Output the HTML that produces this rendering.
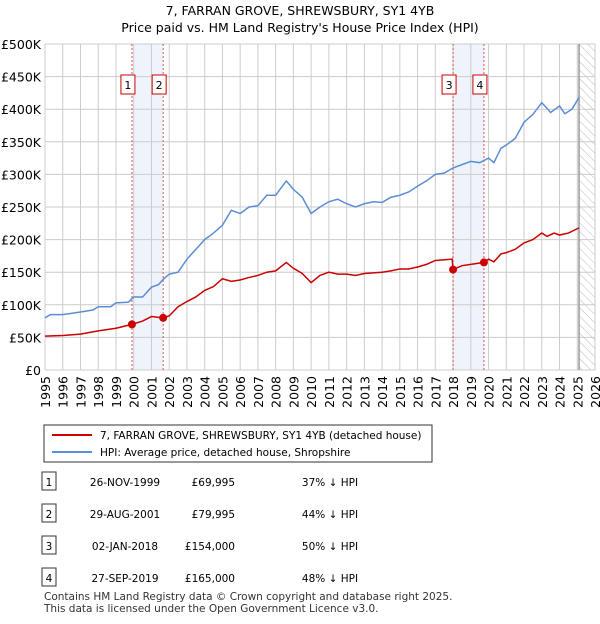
<!DOCTYPE html>
<html><head><meta charset="utf-8"><style>
body{margin:0;background:#fff;font-family:"DejaVu Sans","Liberation Sans",sans-serif;}
svg text{font-family:"DejaVu Sans","Liberation Sans",sans-serif;}
</style></head><body>
<svg id="c" width="600" height="620" xmlns="http://www.w3.org/2000/svg">
<defs><pattern id="hatch" width="6" height="6" patternUnits="userSpaceOnUse" patternTransform="rotate(-45)"><line x1="0" y1="0" x2="0" y2="6" stroke="#bbb" stroke-width="1"/></pattern></defs>
<text x="300" y="15" text-anchor="middle" font-size="12.5">7, FARRAN GROVE, SHREWSBURY, SY1 4YB</text>
<text x="300" y="32" text-anchor="middle" font-size="12.5">Price paid vs. HM Land Registry's House Price Index (HPI)</text>
<g id="grid"></g><g id="marks"></g><g id="axes"></g>
<rect x="44" y="425" width="388" height="37" fill="#fff" stroke="#333"/>
<line x1="52" y1="435" x2="92" y2="435" stroke="#cc0000" stroke-width="2"/>
<text x="100" y="439" font-size="10.5">7, FARRAN GROVE, SHREWSBURY, SY1 4YB (detached house)</text>
<line x1="52" y1="452" x2="92" y2="452" stroke="#5b8dd6" stroke-width="2"/>
<text x="100" y="456" font-size="10.5">HPI: Average price, detached house, Shropshire</text>
<g id="table" font-size="10.5"></g>
<text x="44" y="600" font-size="10.5" fill="#333">Contains HM Land Registry data © Crown copyright and database right 2025.</text>
<text x="44" y="612" font-size="10.5" fill="#333">This data is licensed under the Open Government Licence v3.0.</text>
</svg>
<script>
const hpiYears=[1995,1995.3,1996,1997,1997.7,1998,1998.7,1999,1999.7,2000,2000.5,2001,2001.4,2001.7,2002,2002.5,2003,2003.5,2004,2004.5,2005,2005.5,2006,2006.5,2007,2007.5,2008,2008.6,2009,2009.5,2010,2010.5,2011,2011.5,2012,2012.5,2013,2013.5,2014,2014.5,2015,2015.5,2016,2016.5,2017,2017.5,2018,2018.5,2019,2019.5,2020,2020.3,2020.7,2021,2021.5,2022,2022.5,2023,2023.5,2024,2024.3,2024.7,2025.1];
const hpiValues=[80,85,85,89,92,97,97,103,104,112,112,127,131,140,147,150,170,185,200,210,222,245,240,250,252,268,268,290,277,265,240,250,258,262,255,250,255,258,257,265,268,273,282,290,300,302,310,315,320,318,325,318,340,345,355,380,392,410,395,405,393,400,418];
const ppYears=[1995,1996,1997,1998,1999,1999.9,2000.5,2001,2001.66,2002,2002.5,2003,2003.5,2004,2004.5,2005,2005.5,2006,2006.5,2007,2007.5,2008,2008.6,2009,2009.5,2010,2010.5,2011,2011.5,2012,2012.5,2013,2014,2014.5,2015,2015.5,2016,2016.5,2017,2017.95,2018.0,2018.5,2019,2019.74,2020,2020.3,2020.7,2021,2021.5,2022,2022.5,2023,2023.3,2023.7,2024,2024.5,2025.1];
const ppValues=[52,53,55,60,64,70,75,82,80,83,97,105,112,122,128,140,136,138,142,145,150,152,165,156,148,134,145,150,147,147,145,148,150,152,155,155,158,162,168,170,154,160,162,165,170,166,178,180,185,195,200,210,205,210,207,210,218];
const saleYears=[1999.9,2001.66,2018.0,2019.74];
const saleValues=[69.995,79.995,154,165];
const saleLabels=["1","2","3","4"];
const saleDates=["26-NOV-1999","29-AUG-2001","02-JAN-2018","27-SEP-2019"];
const salePrices=["£69,995","£79,995","£154,000","£165,000"];
const saleDiffs=["37% ↓ HPI","44% ↓ HPI","50% ↓ HPI","48% ↓ HPI"];
const yTicks=[0,50,100,150,200,250,300,350,400,450,500];
const yTickLabels=["£0","£50K","£100K","£150K","£200K","£250K","£300K","£350K","£400K","£450K","£500K"];
const xTicks=[];for(let y=1995;y<=2026;y++)xTicks.push(y);
const X0=45,X1=595,Y0=370,Y1=44;
const xs=y=>X0+(y-1995)/31*(X1-X0);
const ys=v=>Y0-v/500*(Y0-Y1);
const NS="http://www.w3.org/2000/svg";
function mk(p,t,a){const e=document.createElementNS(NS,t);for(const k in a)e.setAttribute(k,a[k]);p.appendChild(e);return e;}
const g=document.getElementById('grid'),m=document.getElementById('marks'),ax=document.getElementById('axes'),tb=document.getElementById('table');
for(let i=0;i<4;i+=2){const b=mk(g,'rect',{x:xs(saleYears[i]),y:Y1,width:xs(saleYears[i+1])-xs(saleYears[i]),height:Y0-Y1,fill:'#eef3fc'});

}
const h=mk(g,'rect',{x:xs(2025.1),y:Y1,width:X1-xs(2025.1),height:Y0-Y1,fill:'url(#hatch)'});


xTicks.forEach(t=>{const l=mk(g,'line',{x1:xs(t),x2:xs(t),y1:Y1,y2:Y0,stroke:'#ccc'});


const tx=mk(ax,'text',{x:0,y:0,'font-size':12.5,'text-anchor':'end',transform:`translate(${xs(t)+5},${Y0+6}) rotate(-90)`});tx.textContent=t;

});
yTicks.forEach((t,i)=>{const l=mk(g,'line',{x1:X0,x2:X1,y1:ys(t),y2:ys(t),stroke:'#ccc'});


const tx=mk(ax,'text',{x:X0-4,y:ys(t)+5,'font-size':12.5,'text-anchor':'end'});tx.textContent=yTickLabels[i];

});
const vl=mk(g,'line',{x1:xs(2025.1),x2:xs(2025.1),y1:Y1,y2:Y0,stroke:'#999','stroke-width':1.5});


saleYears.forEach((s,i)=>{const l=mk(m,'line',{x1:xs(s),x2:xs(s),y1:Y1,y2:Y0,stroke:'#e05050','stroke-dasharray':'2,2'});


const r=mk(m,'rect',{x:xs(s)-11,y:75,width:14,height:19,fill:'#fff',stroke:'#cc0000'});


const t=mk(m,'text',{x:xs(s)-4,y:89,'font-size':11,'text-anchor':'middle'});t.textContent=saleLabels[i];

});
const hp=mk(m,'polyline',{points:hpiYears.map((y,i)=>xs(y)+','+ys(hpiValues[i])).join(' '),fill:'none',stroke:'#5b8dd6','stroke-width':1.5});


const pp=mk(m,'polyline',{points:ppYears.map((y,i)=>xs(y)+','+ys(ppValues[i])).join(' '),fill:'none',stroke:'#cc0000','stroke-width':1.5});


saleYears.forEach((s,i)=>{const c=mk(m,'circle',{cx:xs(s),cy:ys(saleValues[i]),r:4,fill:'#cc0000'});

});
const rowsY=[482,514,546,578];
saleLabels.forEach((lab,i)=>{const y=rowsY[i];
const r=mk(tb,'rect',{x:42,y:y-10,width:14,height:18,fill:'#fff',stroke:'#333'});


const vals=[[49,lab,'middle'],[125,saleDates[i],'middle'],[235,salePrices[i],'end'],[330,saleDiffs[i],'middle']];
vals.forEach(v=>{const t=mk(tb,'text',{x:v[0],y:y+4,'text-anchor':v[2]});t.textContent=v[1];

});});
</script>
</body></html>
